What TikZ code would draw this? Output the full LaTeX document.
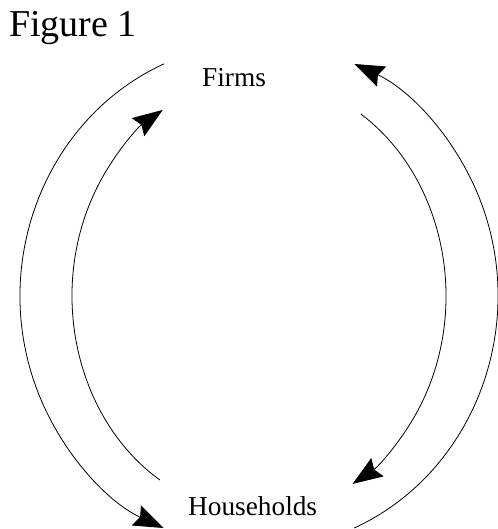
\documentclass[tikz,border=0pt]{standalone}
\usepackage{fontspec}
\setmainfont{Liberation Serif}
\usetikzlibrary{arrows.meta}
\tikzset{
  flow/.style={line width=0.8pt, -{Stealth[length=30pt,width=22pt,inset=4pt]}},
  lbl/.style={inner sep=0pt, anchor=base west, font=\fontsize{27.3}{30}\selectfont},
  ttl/.style={inner sep=0pt, anchor=base west, font=\fontsize{38}{40}\selectfont}
}
\begin{document}
\begin{tikzpicture}[x=1pt,y=1pt]
\useasboundingbox (0,0) rectangle (497,529);
\node[ttl] (title) at (9,492) {Figure 1};
\node[lbl] (firms) at (202,442) {Firms};
\node[lbl] (households) at (188,13) {Households};
\coordinate (c) at (259,233);
\coordinate (olstart) at ([shift={(113.4:239 and 253)}]c);
\coordinate (orstart) at ([shift={(-66.5:239 and 253)}]c);
\coordinate (ilstart) at ([shift={(238:187 and 217)}]c);
\coordinate (irstart) at ([shift={(57:187 and 217)}]c);
% outer left: firms -> households
\draw[flow] (olstart) arc[start angle=113.4, end angle=246.5, x radius=239, y radius=253];
% outer right: households -> firms
\draw[flow] (orstart) arc[start angle=-66.5, end angle=66.5, x radius=239, y radius=253];
% inner left: households -> firms
\draw[flow] (ilstart) arc[start angle=238, end angle=121, x radius=187, y radius=217];
% inner right: firms -> households
\draw[flow] (irstart) arc[start angle=57, end angle=-60, x radius=187, y radius=217];
\end{tikzpicture}
\end{document}
